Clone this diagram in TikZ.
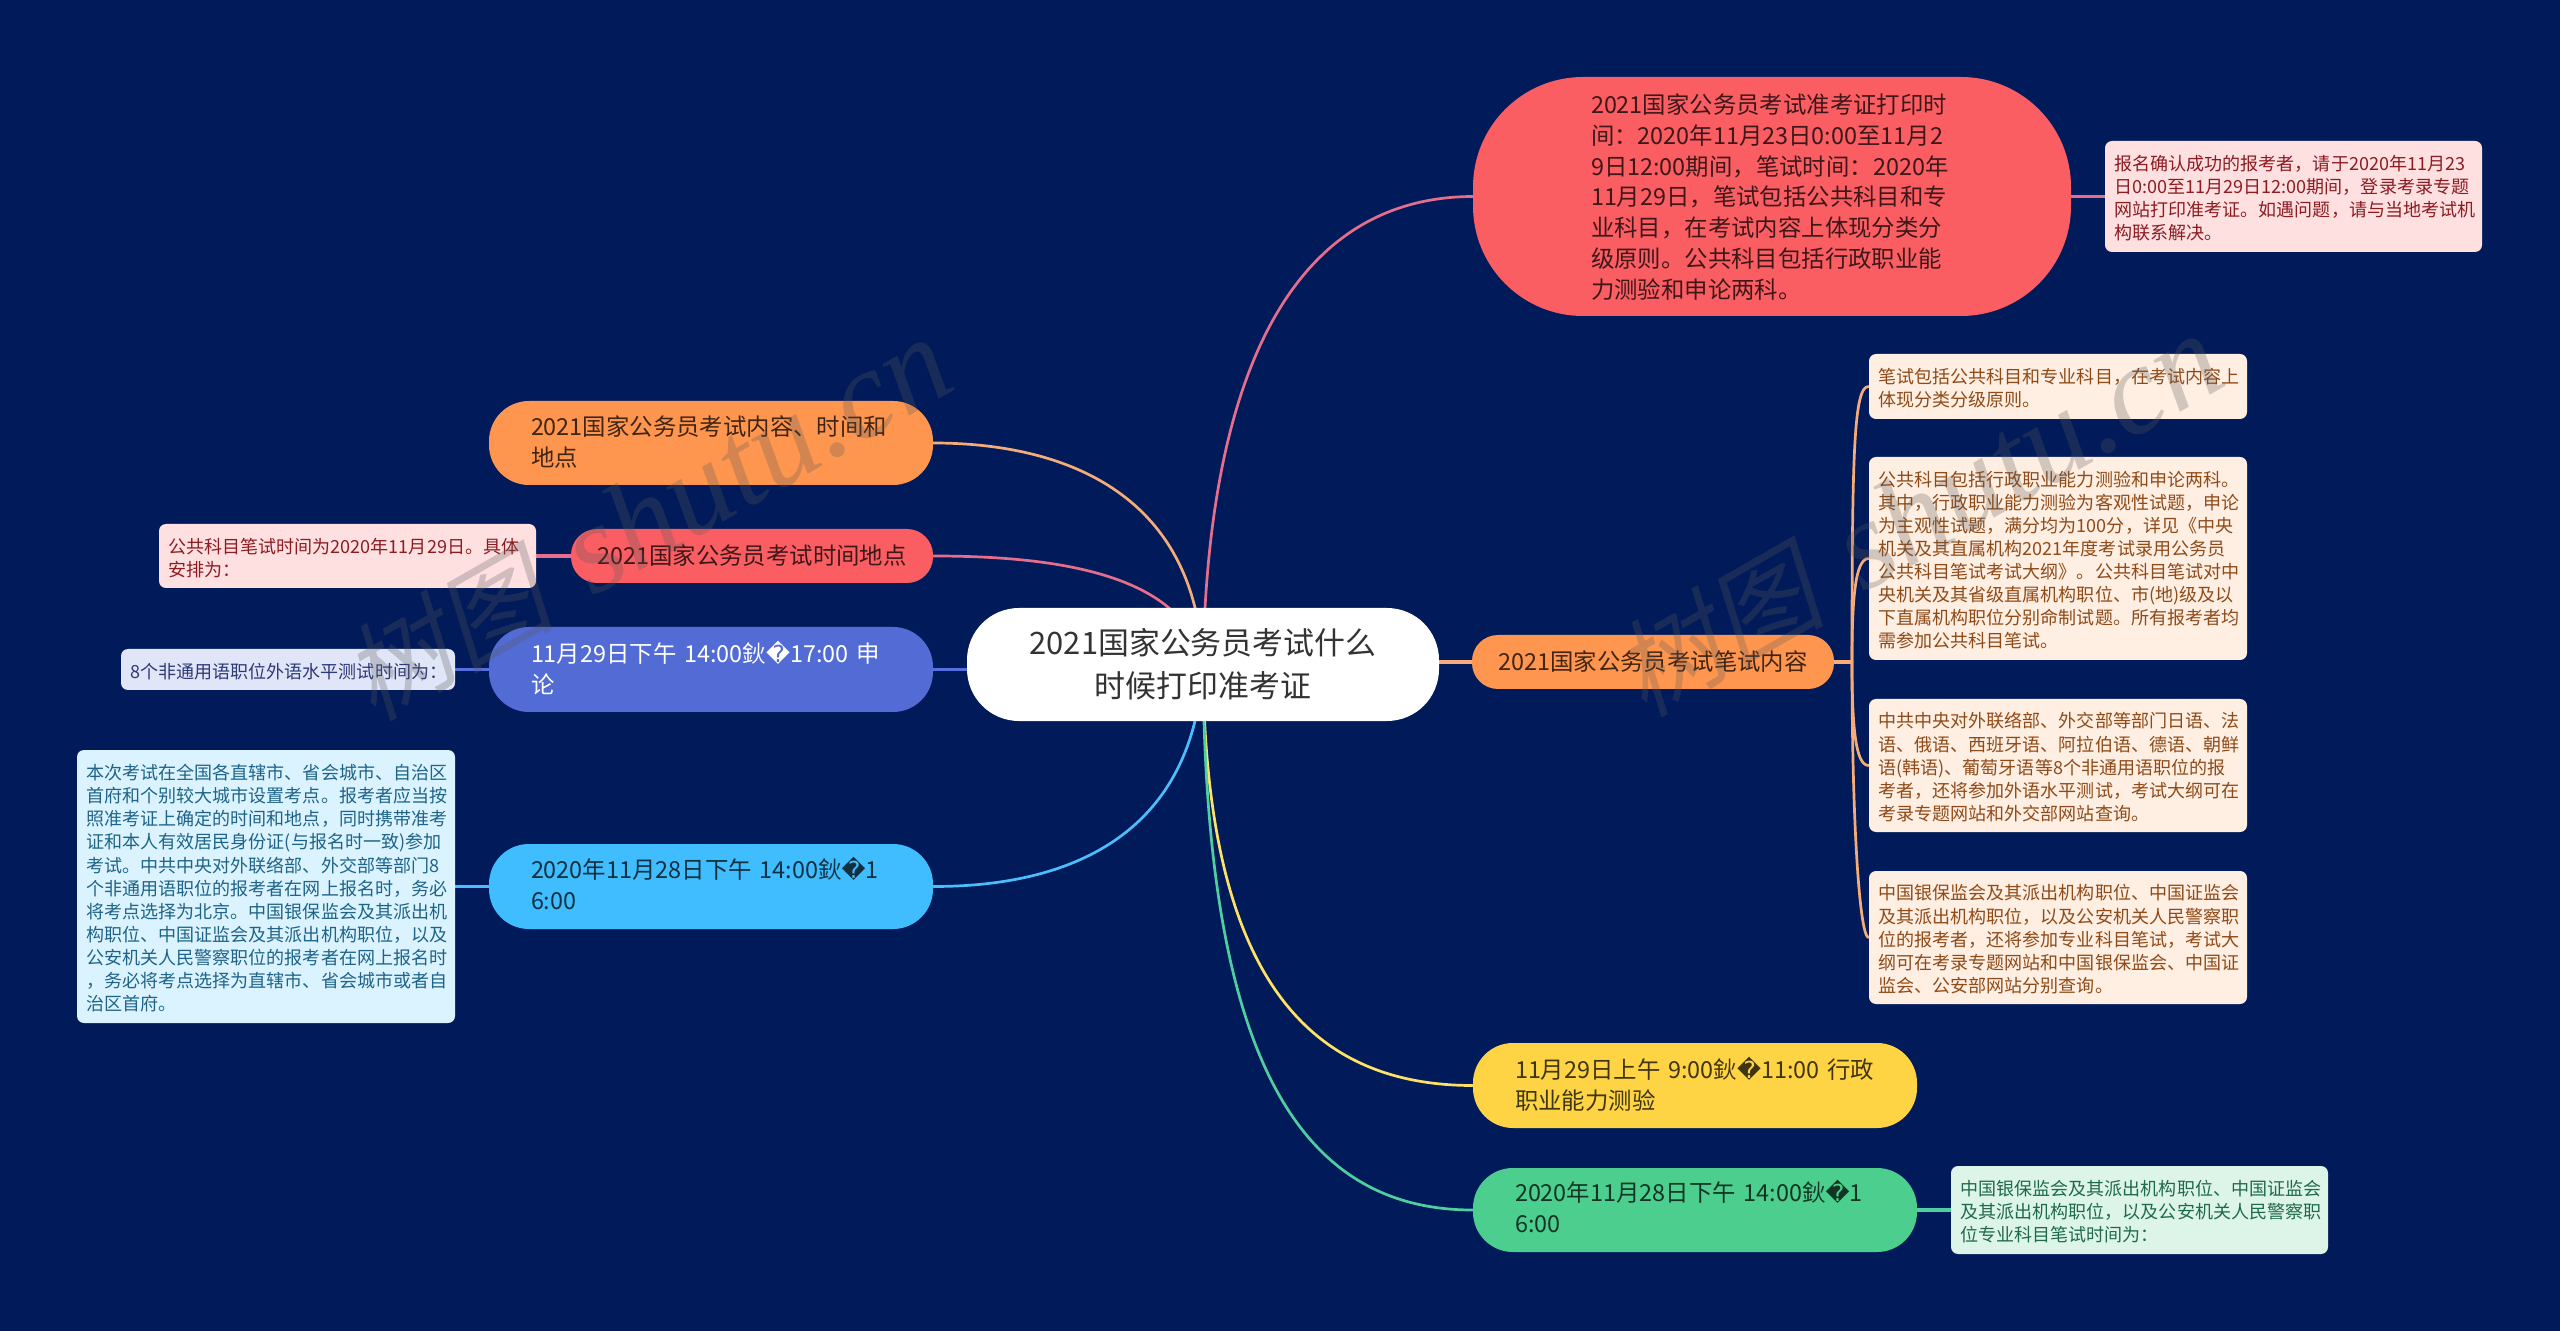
\documentclass[tikz,border=0pt]{standalone}
\usepackage{fontspec}
\setmainfont{Noto Sans CJK SC}
\newfontfamily\fffdfont{DejaVu Sans}
\newfontfamily\wmcjk[FakeSlant=0.22]{Noto Sans CJK SC}
\newfontfamily\wmlat{Liberation Serif Italic}
\usetikzlibrary{backgrounds}
\definecolor{bgnavy}{HTML}{011B5A}
\definecolor{cOrange}{HTML}{FF964F}
\definecolor{cRed}{HTML}{FA5E63}
\definecolor{cBlue}{HTML}{536BD5}
\definecolor{cCyan}{HTML}{3FBDFF}
\definecolor{cYellow}{HTML}{FFD444}
\definecolor{cGreen}{HTML}{4CCF8E}
\definecolor{lOrange}{HTML}{F5AC78}
\definecolor{lRed}{HTML}{E56E8C}
\definecolor{lBlue}{HTML}{5570DC}
\definecolor{lCyan}{HTML}{4CBDFA}
\definecolor{lYellow}{HTML}{FFE165}
\definecolor{lGreen}{HTML}{4FCFA0}
\definecolor{nOrange}{HTML}{FFEEE2}
\definecolor{nRed}{HTML}{FFE0E1}
\definecolor{nBlue}{HTML}{E0E6F8}
\definecolor{nCyan}{HTML}{DAF3FF}
\definecolor{nGreen}{HTML}{DDF5E9}
\definecolor{tOrange}{HTML}{8F4A18}
\definecolor{tRed}{HTML}{8C1C22}
\definecolor{tBlue}{HTML}{2C3A78}
\definecolor{tCyan}{HTML}{1F6488}
\definecolor{tGreen}{HTML}{1F6A4A}
\newdimen\txdrop
\txdrop=0.66pt
\newcommand\txstrut{\vrule width 0pt height .9em depth .3em\relax}
\newcommand\txl[1]{\hbox to \hsize{\txstrut\lower\txdrop\hbox{#1}\hss}\par}
\newcommand\txc[1]{\hbox to \hsize{\txstrut\hss\lower\txdrop\hbox{#1}\hss}\par}
\newcommand\repch{{\fffdfont ^^^^fffd}}
\tikzset{
  textdrop/.style={execute at begin node={\txdrop=#1\relax}},
  big/.style n args={4}{rectangle,fill=#1,text=#2,minimum width=#3,minimum height=#4,
    inner ysep=0pt,inner xsep=21pt,text width=180pt,rounded corners=20pt,
    font=\fontsize{11.7}{15.4}\selectfont},
  slim/.style n args={3}{rectangle,fill=#1,text=#2,minimum width=#3,minimum height=27pt,
    inner ysep=0pt,inner xsep=0pt,text width=#3,rounded corners=13pt,
    font=\fontsize{11.7}{15.4}\selectfont},
  note/.style n args={5}{rectangle,fill=#1,text=#2,minimum width=#3,minimum height=#4,
    inner ysep=0pt,inner xsep=4.75pt,text width=#5,rounded corners=3.5pt,textdrop=1.6pt,
    font=\fontsize{9.02}{11.55}\selectfont},
  linkline/.style={line width=1.35pt,line cap=round},
  branchline/.style={line width=1.6pt},
  watermark/.style={text=black!65,opacity=0.27,rotate=29.8,inner sep=0pt}
}
\begin{document}
\begin{tikzpicture}[x=0.5pt,y=-0.5pt]
\useasboundingbox (0,0) rectangle (2560,1331);
\begin{pgfonlayer}{background}
\fill[bgnavy] (0,0) rectangle (2560,1331);
\end{pgfonlayer}

% central
\node[rectangle,fill=white,text=black!80,minimum width=236pt,minimum height=56.5pt,
  inner sep=0pt,text width=236pt,rounded corners=26pt,textdrop=1.3pt,
  font=\fontsize{15.45}{21.6}\selectfont] (central) at (1203,664.5)
  {\txc{2021国家公务员考试什么}\txc{时候打印准考证}};

% right branch nodes
\node[rectangle,fill=cRed,text=black!75!cRed,minimum width=299pt,minimum height=119.5pt,
  inner ysep=0pt,inner xsep=59pt,text width=181pt,rounded corners=55pt,textdrop=1.2pt,
  font=\fontsize{11.7}{15.4}\selectfont] (redbig) at (1772,196.5)
  {\txl{2021国家公务员考试准考证打印时}\txl{间：2020年11月23日0:00至11月2}\txl{9日12:00期间，笔试时间：2020年}\txl{11月29日，笔试包括公共科目和专}\txl{业科目，在考试内容上体现分类分}\txl{级原则。公共科目包括行政职业能}\txl{力测验和申论两科。}};
\node[note={nRed}{tRed}{188.5pt}{55.5pt}{179pt}] (noteprint) at (2293.5,196.5)
  {\txl{报名确认成功的报考者，请于2020年11月23}\txl{日0:00至11月29日12:00期间，登录考录专题}\txl{网站打印准考证。如遇问题，请与当地考试机}\txl{构联系解决。}};

\node[slim={cOrange}{black!75!cOrange}{181pt}] (writ) at (1653,662)
  {\txc{2021国家公务员考试笔试内容}};
\node[note={nOrange}{tOrange}{189pt}{32.5pt}{179.5pt}] (n1) at (2058,386.5)
  {\txl{笔试包括公共科目和专业科目，在考试内容上}\txl{体现分类分级原则。}};
\node[note={nOrange}{tOrange}{189pt}{101.5pt}{179.5pt}] (n2) at (2058,558.5)
  {\txl{公共科目包括行政职业能力测验和申论两科。}\txl{其中，行政职业能力测验为客观性试题，申论}\txl{为主观性试题，满分均为100分，详见《中央}\txl{机关及其直属机构2021年度考试录用公务员}\txl{公共科目笔试考试大纲》。公共科目笔试对中}\txl{央机关及其省级直属机构职位、市(地)级及以}\txl{下直属机构职位分别命制试题。所有报考者均}\txl{需参加公共科目笔试。}};
\node[note={nOrange}{tOrange}{189pt}{66.5pt}{179.5pt}] (n3) at (2058,765.5)
  {\txl{中共中央对外联络部、外交部等部门日语、法}\txl{语、俄语、西班牙语、阿拉伯语、德语、朝鲜}\txl{语(韩语)、葡萄牙语等8个非通用语职位的报}\txl{考者，还将参加外语水平测试，考试大纲可在}\txl{考录专题网站和外交部网站查询。}};
\node[note={nOrange}{tOrange}{189pt}{66.5pt}{179.5pt}] (n4) at (2058,937.5)
  {\txl{中国银保监会及其派出机构职位、中国证监会}\txl{及其派出机构职位，以及公安机关人民警察职}\txl{位的报考者，还将参加专业科目笔试，考试大}\txl{纲可在考录专题网站和中国银保监会、中国证}\txl{监会、公安部网站分别查询。}};

\node[big={cYellow}{black!75!cYellow}{222pt}{42.5pt}] (yel) at (1695,1085.5)
  {\txl{11月29日上午 9:00鈥\repch 11:00 行政}\txl{职业能力测验}};
\node[big={cGreen}{black!75!cGreen}{222pt}{42pt},textdrop=0pt] (grn) at (1695,1210)
  {\txl{2020年11月28日下午 14:00鈥\repch 1}\txl{6:00}};
\node[note={nGreen}{tGreen}{188.5pt}{44pt}{179pt}] (notegrn) at (2139.5,1210)
  {\txl{中国银保监会及其派出机构职位、中国证监会}\txl{及其派出机构职位，以及公安机关人民警察职}\txl{位专业科目笔试时间为：}};

% left branch nodes
\node[big={cOrange}{black!75!cOrange}{222pt}{42pt}] (orgl) at (711,443)
  {\txl{2021国家公务员考试内容、时间和}\txl{地点}};
\node[slim={cRed}{black!75!cRed}{181pt}] (redl) at (752,556)
  {\txc{2021国家公务员考试时间地点}};
\node[note={nRed}{tRed}{188.5pt}{32pt}{179pt}] (notered) at (347.5,556)
  {\txl{公共科目笔试时间为2020年11月29日。具体}\txl{安排为：}};
\node[big={cBlue}{white}{222pt}{42.5pt}] (blu) at (711,669.5)
  {\txl{11月29日下午 14:00鈥\repch 17:00 申}\txl{论}};
\node[note={nBlue}{tBlue}{167pt}{20.5pt}{157.5pt}] (noteblu) at (288,669.5)
  {\txl{8个非通用语职位外语水平测试时间为：}};
\node[big={cCyan}{black!75!cCyan}{222pt}{42.5pt},textdrop=0pt] (cyn) at (711,886.5)
  {\txl{2020年11月28日下午 14:00鈥\repch 1}\txl{6:00}};
\node[note={nCyan}{tCyan}{189pt}{136.5pt}{179.5pt}] (notecyn) at (266,886.5)
  {\txl{本次考试在全国各直辖市、省会城市、自治区}\txl{首府和个别较大城市设置考点。报考者应当按}\txl{照准考证上确定的时间和地点，同时携带准考}\txl{证和本人有效居民身份证(与报名时一致)参加}\txl{考试。中共中央对外联络部、外交部等部门8}\txl{个非通用语职位的报考者在网上报名时，务必}\txl{将考点选择为北京。中国银保监会及其派出机}\txl{构职位、中国证监会及其派出机构职位，以及}\txl{公安机关人民警察职位的报考者在网上报名时}\txl{，务必将考点选择为直辖市、省会城市或者自}\txl{治区首府。}};

% connectors
\begin{pgfonlayer}{background}
\draw[linkline,lRed] (central.center) .. controls (1208,360) and (1300,197) .. (redbig.west);
\draw[linkline,lOrange] (central.center) .. controls (1195,490) and (1060,443) .. (orgl.east);
\draw[linkline,lRed] (central.center) .. controls (1185,575) and (1060,556) .. (redl.east);
\draw[linkline,lCyan] (central.center) .. controls (1195,820) and (1090,886.5) .. (cyn.east);
\draw[linkline,lYellow] (central.center) .. controls (1205,950) and (1290,1085.5) .. (yel.west);
\draw[linkline,lGreen] (central.center) .. controls (1205,1040) and (1290,1210) .. (grn.west);
\draw[branchline,lBlue] (blu.east) -- (blu.east -| central.west);
\draw[branchline,lOrange] (writ.west -| central.east) -- (writ.west);
\draw[branchline,lRed] (redbig.east) -- (noteprint.west);
\draw[branchline,lRed] (redl.west) -- (notered.east);
\draw[branchline,lBlue] (blu.west) -- (noteblu.east);
\draw[branchline,lCyan] (cyn.west) -- (notecyn.east);
\draw[branchline,lGreen] (grn.east) -- (notegrn.west);
\coordinate (trunk) at (1852,662);
\draw[branchline,lOrange] (writ.east) -- (trunk);
\draw[linkline,lOrange] (trunk) .. controls (1852,450) and (1854,386.5) .. (n1.west);
\draw[linkline,lOrange] (trunk) .. controls (1852,600) and (1855,558.5) .. (n2.west);
\draw[linkline,lOrange] (trunk) .. controls (1852,730) and (1856,765.5) .. (n3.west);
\draw[linkline,lOrange] (trunk) .. controls (1852,830) and (1860,937.5) .. (n4.west);
\end{pgfonlayer}

% watermarks
\node[watermark] (wm1) at (647,520) {{\fontsize{53}{60}\selectfont\wmcjk 树图}\hspace*{20pt}{\fontsize{63}{60}\selectfont\wmlat shutu.cn}};
\node[watermark] (wm2) at (1918,516) {{\fontsize{53}{60}\selectfont\wmcjk 树图}\hspace*{20pt}{\fontsize{63}{60}\selectfont\wmlat shutu.cn}};
\end{tikzpicture}
\end{document}
